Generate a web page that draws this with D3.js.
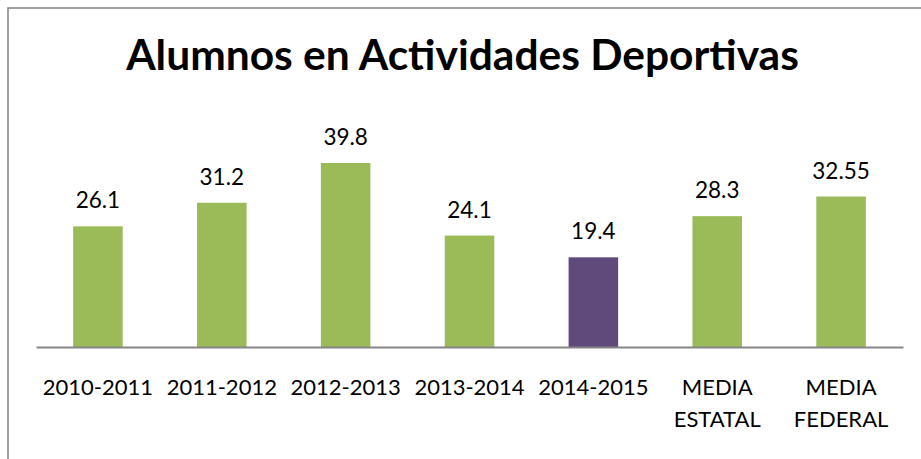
<!DOCTYPE html>
<html>
<head>
<meta charset="utf-8">
<script src="https://cdn.jsdelivr.net/npm/d3@7"></script>
<style>
    html, body { margin: 0; padding: 0; background: #fff; overflow: hidden; }
    text { font-family: Lato, "Open Sans", sans-serif; fill: #000; }
</style>
</head>
<body>
<div id="chart"></div>
<script>
const title = "Alumnos en Actividades Deportivas";
const categories = ["2010-2011", "2011-2012", "2012-2013", "2013-2014", "2014-2015", "MEDIA ESTATAL", "MEDIA FEDERAL"];
const values = [26.1, 31.2, 39.8, 24.1, 19.4, 28.3, 32.55];
const valueLabels = ["26.1", "31.2", "39.8", "24.1", "19.4", "28.3", "32.55"];
const highlighted = ["2014-2015"];

const W = 921, H = 459;
const margin = { top: 163, right: 18, bottom: 112, left: 36 };
const width = W - margin.left - margin.right;
const height = H - margin.top - margin.bottom;

const svg = d3.select("#chart")
    .append("svg")
    .attr("width", W)
    .attr("height", H);

// outer chart frame (runs off the right and bottom edges)
svg.append("rect")
    .attr("x", 8)
    .attr("y", 8)
    .attr("width", W + 20)
    .attr("height", H + 20)
    .attr("fill", "none")
    .attr("stroke", "#8a8a8a")
    .attr("stroke-width", 1.6);

svg.append("text")
    .attr("x", 462.5)
    .attr("y", 70)
    .attr("text-anchor", "middle")
    .style("font-weight", "bold")
    .style("font-size", "42.5px")
    .text(title);

const g = svg.append("g")
    .attr("transform", `translate(${margin.left},${margin.top})`);

const x = d3.scaleBand()
    .domain(categories)
    .range([0, width])
    .paddingInner(0.6)
    .paddingOuter(0.3);

const y = d3.scaleLinear()
    .domain([0, 39.8])
    .range([height, 0]);

g.selectAll(".bar")
    .data(values)
    .enter()
    .append("rect")
    .attr("class", "bar")
    .attr("x", (d, i) => x(categories[i]))
    .attr("y", d => y(d))
    .attr("width", x.bandwidth())
    .attr("height", d => height - y(d))
    .attr("fill", (d, i) => highlighted.includes(categories[i]) ? "#604a7b" : "#9bbb59");

g.selectAll(".value")
    .data(values)
    .enter()
    .append("text")
    .attr("class", "value")
    .attr("x", (d, i) => x(categories[i]) + x.bandwidth() / 2)
    .attr("y", d => y(d) - 18)
    .attr("text-anchor", "middle")
    .style("font-size", "22.5px")
    .text((d, i) => valueLabels[i]);

// x axis
const axis = g.append("g")
    .attr("transform", `translate(0,${height})`)
    .call(d3.axisBottom(x).tickSize(0).tickPadding(0));
axis.select(".domain")
    .attr("stroke", "#868686")
    .attr("stroke-width", 2);
axis.selectAll(".tick text").remove();
axis.selectAll(".tick").each(function(d) {
    const words = d.split(" ");
    const t = d3.select(this).append("text")
        .attr("text-anchor", "middle")
        .style("font-size", "22px");
    words.forEach((w, i) => {
        t.append("tspan")
            .attr("x", 0)
            .attr("y", 48 + i * 31.5)
            .text(w);
    });
});
</script>
</body>
</html>
